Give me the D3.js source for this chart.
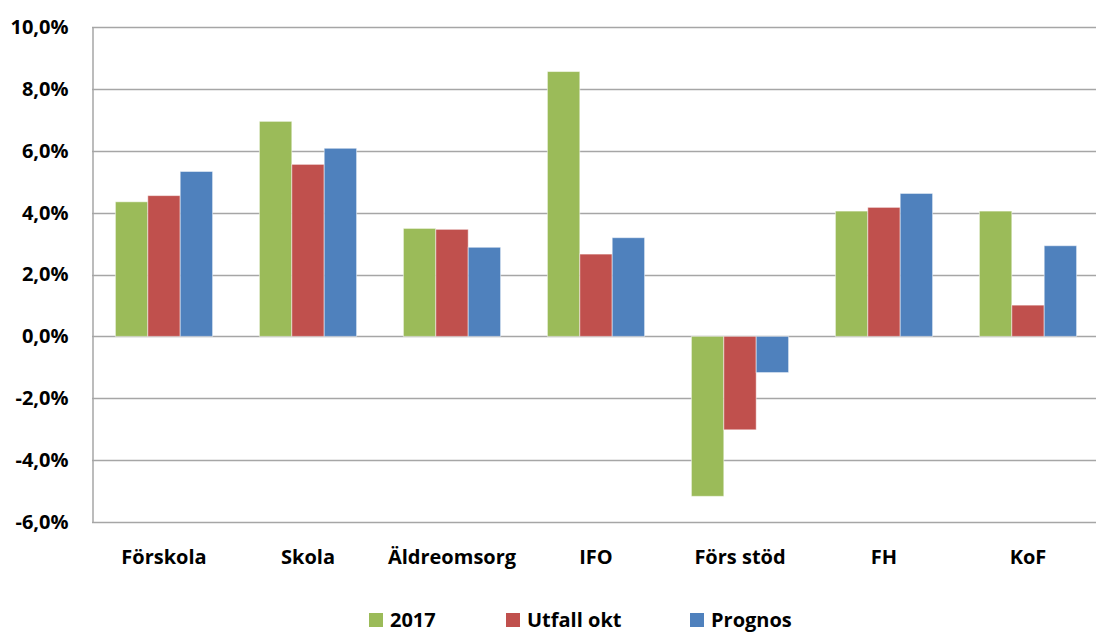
<!DOCTYPE html>
<html>
<head>
<meta charset="utf-8">
<script src="https://cdn.jsdelivr.net/npm/d3@7"></script>
<style>
  body { margin: 0; background: #fff; }
  text { font-family: "Open Sans", "Noto Sans", sans-serif; font-weight: bold; fill: #000; }
</style>
</head>
<body>
<script>
  // chart data
  const categories = ["Förskola", "Skola", "Äldreomsorg", "IFO", "Förs stöd", "FH", "KoF"];
  const seriesNames = ["2017", "Utfall okt", "Prognos"];
  const values2017 = [4.35, 6.95, 3.49, 8.56, -5.17, 4.05, 4.05];
  const valuesUtfall = [4.55, 5.56, 3.46, 2.66, -3.02, 4.17, 1.01];
  const valuesPrognos = [5.33, 6.08, 2.88, 3.19, -1.17, 4.62, 2.93];
  const yTicks = [-6, -4, -2, 0, 2, 4, 6, 8, 10];
  const colors = ["#9BBB59", "#C0504D", "#4F81BD"];

  const width = 1096, height = 633;
  const margin = { left: 92, right: -4, top: 27, bottom: 111 };

  let svg = d3.select("body").append("svg")
    .attr("width", width)
    .attr("height", height);

  // table built from the arrays
  let rows = categories.map((c, i) => ({
    cat: c,
    vals: [values2017[i], valuesUtfall[i], valuesPrognos[i]]
  }));

  let xScale = d3.scaleBand()
    .domain(categories)
    .range([margin.left, width - margin.right])
    .paddingInner(0.325)
    .paddingOuter(0.1625);

  let xInner = d3.scaleBand()
    .domain(seriesNames)
    .range([0, xScale.bandwidth()]);

  let yScale = d3.scaleLinear()
    .domain([-6, 10])
    .range([height - margin.bottom, margin.top]);

  // gridlines
  svg.append("g")
    .selectAll("line")
    .data(yTicks)
    .enter()
    .append("line")
      .attr("x1", margin.left)
      .attr("x2", width)
      .attr("y1", d => Math.round(yScale(d)) + 0.5)
      .attr("y2", d => Math.round(yScale(d)) + 0.5)
      .attr("stroke", "#a6a6a6")
      .attr("stroke-width", 1.5);

  // y axis (plain hyphen for negatives, comma decimal)
  let yAxis = d3.axisLeft(yScale)
    .tickValues(yTicks)
    .tickSize(0)
    .tickPadding(24)
    .tickFormat(d => d.toFixed(1).replace(".", ",") + "%");

  let yG = svg.append("g")
    .attr("transform", `translate(${margin.left + 0.5}, 0)`)
    .call(yAxis);
  yG.select(".domain").attr("stroke", "#a6a6a6").attr("stroke-width", 1.5);
  yG.selectAll("text")
    .attr("font-size", 20)
    .style("font-family", "'Open Sans', sans-serif")
    .attr("font-weight", "bold")
    .attr("fill", "#000");

  // bars
  let groups = svg.append("g")
    .selectAll("g")
    .data(rows)
    .enter()
    .append("g")
      .attr("transform", d => `translate(${xScale(d.cat)}, 0)`);

  groups.selectAll("rect")
    .data(d => d.vals.map((v, i) => ({ name: seriesNames[i], v: v, i: i })))
    .enter()
    .append("rect")
      .attr("x", d => xInner(d.name))
      .attr("width", xInner.bandwidth())
      .attr("y", d => yScale(Math.max(0, d.v)))
      .attr("height", d => Math.abs(yScale(d.v) - yScale(0)))
      .attr("fill", d => colors[d.i])
      .attr("stroke", "rgba(255,255,255,0.5)")
      .attr("stroke-width", 1);

  // x labels
  svg.append("g")
    .selectAll("text")
    .data(categories)
    .enter()
    .append("text")
      .attr("x", d => xScale(d) + xScale.bandwidth() / 2)
      .attr("y", 564)
      .attr("text-anchor", "middle")
      .attr("font-size", 20)
      .text(d => d);

  // legend
  let legendX = [369, 506, 690];
  let legend = svg.append("g")
    .selectAll("g")
    .data(seriesNames)
    .enter()
    .append("g")
      .attr("transform", (d, i) => `translate(${legendX[i]}, 613)`);

  legend.append("rect")
    .attr("width", 14)
    .attr("height", 14)
    .attr("fill", (d, i) => colors[i]);

  legend.append("text")
    .attr("x", 21)
    .attr("y", 14)
    .attr("font-size", 20)
    .text(d => d);
</script>
</body>
</html>
